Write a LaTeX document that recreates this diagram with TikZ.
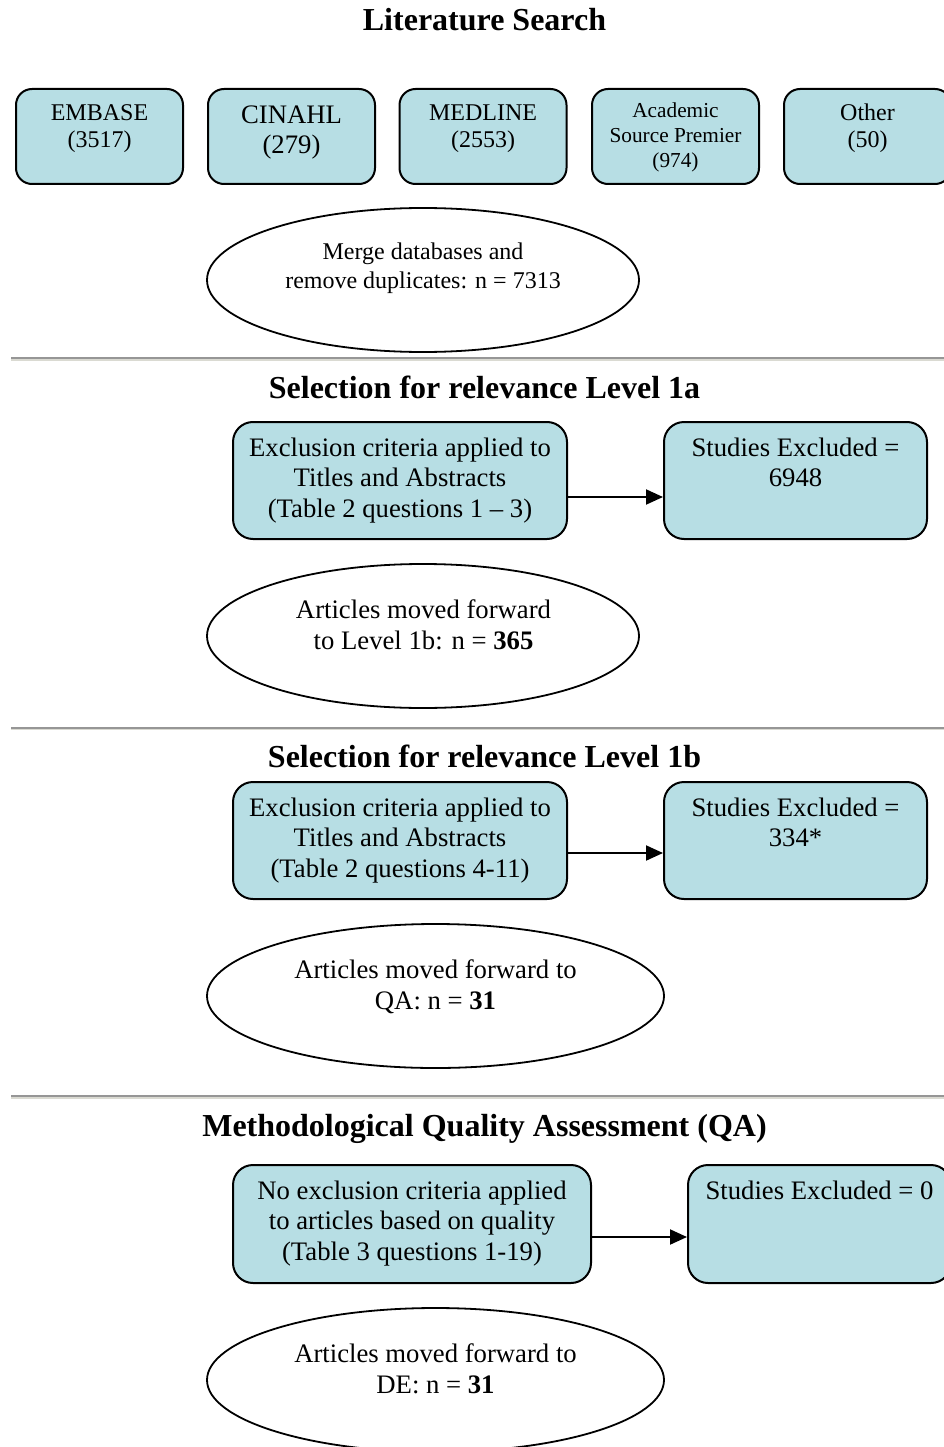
\documentclass[tikz,border=0pt]{standalone}
\usepackage{fontspec}
\setmainfont{Liberation Serif}
\usetikzlibrary{arrows.meta,shapes.geometric}
\definecolor{boxfill}{RGB}{183,222,228}
\definecolor{rulegray}{RGB}{150,150,150}
\definecolor{rulelight}{RGB}{218,218,210}
\newcommand\fsTitle{\fontsize{32}{38}\selectfont\bfseries}
\newcommand\fsBody{\fontsize{26.7}{30.5}\selectfont}
\newcommand\fsSmall{\fontsize{24}{27}\selectfont}
\newcommand\fsMerge{\fontsize{24}{29}\selectfont}
\newcommand\fsCin{\fontsize{26.7}{30}\selectfont}
\newcommand\fsAsp{\fontsize{21.3}{25}\selectfont}
\begin{document}
\begin{tikzpicture}[x=1pt,y=-1pt,
  tbox/.style={draw=black, line width=2pt, fill=boxfill, rounded corners=16pt,
    minimum width=167pt, minimum height=95pt, inner sep=0pt},
  bbox/.style={draw=black, line width=2pt, fill=boxfill, rounded corners=20pt,
    minimum height=117pt, inner sep=0pt},
  oval/.style={draw=black, line width=1.8pt, ellipse, inner sep=0pt},
  txt/.style={anchor=north, align=center, inner sep=0pt},
  ttl/.style={anchor=base, inner sep=0pt, font=\fsTitle},
  arr/.style={line width=2pt, -{Triangle[length=17pt,width=15pt]}},
  seprule/.style={line width=2pt, draw=rulegray},
  seplight/.style={line width=1.4pt, draw=rulelight}]
\path[use as bounding box] (0,0) rectangle (944,1447);
\clip (0,0) rectangle (944,1447);

% ---------- Literature Search ----------
\node[ttl] (t1) at (484.5,31) {Literature Search};

\node[tbox] (db1) at (99.5,136.5) {};
\node[tbox] (db2) at (291.5,136.5) {};
\node[tbox] (db3) at (483,136.5) {};
\node[tbox] (db4) at (675.5,136.5) {};
\node[tbox] (db5) at (867.5,136.5) {};
\node[txt, font=\fsSmall] (db1t) at (99.5,104.1) {EMBASE\\(3517)};
\node[txt, font=\fsCin] (db2t) at (291.5,105.3) {CINAHL\\(279)};
\node[txt, font=\fsSmall] (db3t) at (483,104.1) {MEDLINE\\(2553)};
\node[txt, font=\fsAsp] (db4t) at (675.5,102.5) {Academic\\Source Premier\\(974)};
\node[txt, font=\fsSmall] (db5t) at (867.5,103.6) {Other\\(50)};

\node[oval, minimum width=432pt, minimum height=144pt] (m1) at (423,280) {};
\node[txt, font=\fsMerge] (m1t) at (423,242.6) {Merge databases and\\remove duplicates: n = 7313};

\draw[seprule] (11,358) -- (944,358);
\draw[seplight] (11,359.8) -- (944,359.8);

% ---------- Level 1a ----------
\node[ttl] (t2) at (484.5,398) {Selection for relevance Level 1a};
\node[bbox, minimum width=334pt] (bA) at (400,480.5) {};
\node[bbox, minimum width=263pt] (bB) at (795.5,480.5) {};
\node[txt, font=\fsBody] (bAt) at (400,437.5) {Exclusion criteria applied to\\Titles and Abstracts\\(Table 2 questions 1 – 3)};
\node[txt, font=\fsBody] (bBt) at (795.5,437.5) {Studies Excluded =\\6948};
\draw[arr] ([yshift=-16.5pt]bA.east) -- ([yshift=-16.5pt]bB.west);

\node[oval, minimum width=432pt, minimum height=144pt] (m2) at (423,636) {};
\node[txt, font=\fsBody] (m2t) at (423.5,599.8) {Articles moved forward\\to Level 1b: n = \textbf{365}};

\draw[seprule] (11,727.5) -- (944,727.5);
\draw[seplight] (11,729.3) -- (944,729.3);

% ---------- Level 1b ----------
\node[ttl] (t3) at (484.5,767) {Selection for relevance Level 1b};
\node[bbox, minimum width=334pt] (bC) at (400,840.5) {};
\node[bbox, minimum width=263pt] (bD) at (795.5,840.5) {};
\node[txt, font=\fsBody] (bCt) at (400,797.3) {Exclusion criteria applied to\\Titles and Abstracts\\(Table 2 questions 4-11)};
\node[txt, font=\fsBody] (bDt) at (795.5,797.3) {Studies Excluded =\\334*};
\draw[arr] ([yshift=-12.5pt]bC.east) -- ([yshift=-12.5pt]bD.west);

\node[oval, minimum width=457pt, minimum height=144pt] (m3) at (435.5,996) {};
\node[txt, font=\fsBody] (m3t) at (435.5,959.8) {Articles moved forward to\\QA: n = \textbf{31}};

\draw[seprule] (11,1096) -- (944,1096);
\draw[seplight] (11,1097.8) -- (944,1097.8);

% ---------- Quality Assessment ----------
\node[ttl] (t4) at (484.5,1136) {Methodological Quality Assessment (QA)};
\node[bbox, minimum width=358pt, minimum height=118pt] (bE) at (412,1224) {};
\node[bbox, minimum width=263pt, minimum height=118pt] (bF) at (819.5,1224) {};
\node[txt, font=\fsBody] (bEt) at (412,1180.5) {No exclusion criteria applied\\to articles based on quality\\(Table 3 questions 1-19)};
\node[txt, font=\fsBody] (bFt) at (819.5,1180.5) {Studies Excluded = 0};
\draw[arr] ([yshift=-13pt]bE.east) -- ([yshift=-13pt]bF.west);

\node[oval, minimum width=457pt, minimum height=144pt] (m4) at (435.5,1380) {};
\node[txt, font=\fsBody] (m4t) at (435.5,1343.8) {Articles moved forward to\\DE: n = \textbf{31}};
\end{tikzpicture}
\end{document}
